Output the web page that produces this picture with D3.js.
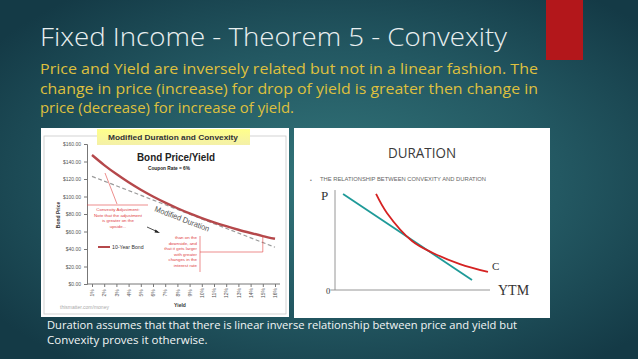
<!DOCTYPE html>
<html>
<head>
<meta charset="utf-8">
<script src="https://cdn.jsdelivr.net/npm/d3@7"></script>
<style>
body { margin: 0; overflow: hidden; }
svg { display: block; }
</style>
</head>
<body>
<script>
// slide text
var title = "Fixed Income - Theorem 5 - Convexity";
var introLines = [
  "Price and Yield are inversely related but not in a linear fashion. The",
  "change in price (increase) for drop of yield is greater then change in",
  "price (decrease) for increase of yield."
];
var footLines = [
  "Duration assumes that that there is linear inverse relationship between price and yield but",
  "Convexity proves it otherwise."
];

// left chart: 10-year bond, 6% coupon
var yields = [1, 2, 3, 4, 5, 6, 7, 8, 9, 10, 11, 12, 13, 14, 15, 16];
var bondPrice = [147.4, 135.9, 125.6, 116.2, 107.7, 100.0, 93.0, 86.6, 80.7, 75.4, 70.5, 66.1, 62.0, 58.3, 54.8, 51.7];
var durationYield = [1, 16];
var durationPrice = [123, 42];
var priceTicks = [0, 20, 40, 60, 80, 100, 120, 140, 160];

// right chart: schematic P vs YTM
var convexX = [2.65, 3.35, 4.97, 6.32, 8.06, 9.87];
var convexY = [9.8, 7.86, 5.0, 3.78, 2.65, 1.84];
var lineX = [0.52, 8.84];
var lineY = [9.8, 1.02];

var width = 638, height = 359;
var svg = d3.select("body").append("svg")
  .attr("width", width)
  .attr("height", height);

var defs = svg.append("defs");
var bg = defs.append("radialGradient").attr("id", "bg")
  .attr("cx", "0.52").attr("cy", "0.5").attr("r", "0.65");
bg.append("stop").attr("offset", "0").attr("stop-color", "#33757a");
bg.append("stop").attr("offset", "0.55").attr("stop-color", "#235862");
bg.append("stop").attr("offset", "1").attr("stop-color", "#143a46");

var yel = defs.append("linearGradient").attr("id", "yel")
  .attr("x1", 0).attr("y1", 0).attr("x2", 0).attr("y2", 1);
yel.append("stop").attr("offset", "0").attr("stop-color", "#ffff8a");
yel.append("stop").attr("offset", "1").attr("stop-color", "#f4f0a8");

svg.append("rect").attr("width", width).attr("height", height).attr("fill", "url(#bg)");

// red tab
svg.append("rect").attr("x", 546).attr("y", 0).attr("width", 37).attr("height", 60).attr("fill", "#b3171b");

svg.append("text")
  .attr("x", 40).attr("y", 46)
  .attr("font-family", "Open Sans, sans-serif")
  .attr("font-weight", 300)
  .attr("font-size", 26)
  .attr("fill", "#e9eff0")
  .attr("textLength", 467)
  .attr("lengthAdjust", "spacingAndGlyphs")
  .text(title);

svg.append("g").selectAll("text")
  .data(introLines)
  .enter()
  .append("text")
  .attr("x", 40)
  .attr("y", function(d, i){ return 74 + i * 19.7; })
  .attr("font-family", "Open Sans, sans-serif")
  .attr("font-size", 14.5)
  .attr("fill", "#dfc03e")
  .attr("textLength", function(d, i){ return i < 2 ? 498 : 254; })
  .attr("lengthAdjust", "spacingAndGlyphs")
  .text(function(d){ return d; });

svg.append("g").selectAll("text")
  .data(footLines)
  .enter()
  .append("text")
  .attr("x", 47)
  .attr("y", function(d, i){ return 329 + i * 14.5; })
  .attr("font-family", "Open Sans, sans-serif")
  .attr("font-size", 11.5)
  .attr("fill", "#f2f5f5")
  .attr("textLength", function(d, i){ return i == 0 ? 470 : null; })
  .attr("lengthAdjust", "spacingAndGlyphs")
  .text(function(d){ return d; });

// ---------- left panel ----------
var left = svg.append("g");
left.append("rect").attr("x", 41).attr("y", 128).attr("width", 248).attr("height", 189).attr("fill", "#ffffff");
left.append("rect").attr("x", 44).attr("y", 136).attr("width", 242).attr("height", 178)
  .attr("fill", "none").attr("stroke", "#c8c8c8").attr("stroke-width", 0.8);

var xScale = d3.scaleLinear().domain([1, 16]).range([92, 275]);
var yScale = d3.scaleLinear().domain([0, 160]).range([284, 144]);

var yAxis = left.append("g")
  .attr("transform", "translate(87,0)")
  .call(d3.axisLeft(yScale).tickValues(priceTicks).tickSize(3)
    .tickFormat(function(d){ return "$" + d.toFixed(2); }));
yAxis.select(".domain").attr("stroke", "#777");
yAxis.selectAll("line").attr("stroke", "#777");
yAxis.selectAll("text").attr("font-family", "Liberation Sans, sans-serif")
  .attr("font-size", 5).attr("fill", "#555");

var xAxis = left.append("g")
  .attr("transform", "translate(0,284)")
  .call(d3.axisBottom(xScale).tickValues(yields).tickSize(3)
    .tickFormat(function(d){ return d + "%"; }));
xAxis.select(".domain").attr("stroke", "#777").attr("d", "M87,0H280");
xAxis.selectAll("line").attr("stroke", "#777");
xAxis.selectAll("text")
  .attr("font-family", "Liberation Sans, sans-serif")
  .attr("font-size", 5).attr("fill", "#555")
  .attr("transform", "rotate(-90)")
  .attr("text-anchor", "middle")
  .attr("x", -9).attr("y", 0).attr("dy", "0.35em");

left.append("text")
  .attr("transform", "translate(60,215) rotate(-90)")
  .attr("text-anchor", "middle")
  .attr("font-family", "Liberation Sans, sans-serif")
  .attr("font-size", 5).attr("font-weight", "bold").attr("fill", "#333")
  .text("Bond Price");

left.append("text")
  .attr("x", 180).attr("y", 307).attr("text-anchor", "middle")
  .attr("font-family", "Liberation Sans, sans-serif")
  .attr("font-size", 5).attr("font-weight", "bold").attr("fill", "#333")
  .text("Yield");

left.append("text")
  .attr("x", 60).attr("y", 309)
  .attr("font-family", "Liberation Sans, sans-serif")
  .attr("font-size", 5).attr("fill", "#aaa")
  .text("thismatter.com/money");

// duration line
var durLine = d3.line()
  .x(function(d){ return xScale(d[0]); })
  .y(function(d){ return yScale(d[1]); });
left.append("path")
  .datum(d3.zip(durationYield, durationPrice))
  .attr("d", durLine)
  .attr("fill", "none").attr("stroke", "#9a9a9a")
  .attr("stroke-width", 1.2).attr("stroke-dasharray", "4,2.5");

// bond curve
var bondLine = d3.line()
  .curve(d3.curveMonotoneX)
  .x(function(d){ return xScale(d[0]); })
  .y(function(d){ return yScale(d[1]); });
left.append("path")
  .datum(d3.zip(yields, bondPrice))
  .attr("d", bondLine)
  .attr("fill", "none").attr("stroke", "#b5484b")
  .attr("stroke-width", 2.4);

// heading box
left.append("rect").attr("x", 97).attr("y", 129).attr("width", 153).attr("height", 16).attr("fill", "url(#yel)");
left.append("text")
  .attr("x", 173).attr("y", 140).attr("text-anchor", "middle")
  .attr("font-family", "Liberation Sans, sans-serif")
  .attr("font-size", 7).attr("font-weight", "bold").attr("fill", "#333")
  .attr("textLength", 130).attr("lengthAdjust", "spacingAndGlyphs")
  .text("Modified Duration and Convexity");

left.append("text")
  .attr("x", 176).attr("y", 161).attr("text-anchor", "middle")
  .attr("font-family", "Liberation Sans, sans-serif")
  .attr("font-size", 10).attr("font-weight", "bold").attr("fill", "#222")
  .attr("textLength", 78).attr("lengthAdjust", "spacingAndGlyphs")
  .text("Bond Price/Yield");
left.append("text")
  .attr("x", 169).attr("y", 170).attr("text-anchor", "middle")
  .attr("font-family", "Liberation Sans, sans-serif")
  .attr("font-size", 5.5).attr("font-weight", "bold").attr("fill", "#222")
  .attr("textLength", 42).attr("lengthAdjust", "spacingAndGlyphs")
  .text("Coupon Rate = 6%");

// "Modified Duration" label along the dashed line
left.append("text")
  .attr("transform", "translate(154,211) rotate(21)")
  .attr("font-family", "Liberation Sans, sans-serif")
  .attr("font-size", 8).attr("fill", "#555")
  .attr("textLength", 58).attr("lengthAdjust", "spacingAndGlyphs")
  .text("Modified Duration");

// small arrow
left.append("line").attr("x1", 147).attr("y1", 227).attr("x2", 158).attr("y2", 232)
  .attr("stroke", "#222").attr("stroke-width", 0.8);
left.append("path").attr("d", "M160,233 L155.5,229.5 L154.5,232.5 Z").attr("fill", "#222");

// legend
left.append("line").attr("x1", 98).attr("y1", 247).attr("x2", 110).attr("y2", 247)
  .attr("stroke", "#b5484b").attr("stroke-width", 2);
left.append("text").attr("x", 112).attr("y", 249)
  .attr("font-family", "Liberation Sans, sans-serif")
  .attr("font-size", 5.2).attr("fill", "#333")
  .text("10-Year Bond");

// annotations
var red = "#e0413f";
left.append("line").attr("x1", 105).attr("y1", 173).attr("x2", 117).attr("y2", 204)
  .attr("stroke", red).attr("stroke-width", 0.6);
left.append("line").attr("x1", 87).attr("y1", 205).attr("x2", 148).attr("y2", 205)
  .attr("stroke", red).attr("stroke-width", 0.6);

var note1 = ["Convexity Adjustment:", "Note that the adjustment", "is greater on the", "upside..."];
left.append("g").selectAll("text")
  .data(note1).enter().append("text")
  .attr("x", 118).attr("y", function(d, i){ return 211 + i * 5.6; })
  .attr("text-anchor", "middle")
  .attr("font-family", "Liberation Sans, sans-serif")
  .attr("font-size", 4.4).attr("fill", red)
  .text(function(d){ return d; });

var note2 = ["than on the", "downside, and", "that it gets larger", "with greater", "changes in the", "interest rate"];
left.append("g").selectAll("text")
  .data(note2).enter().append("text")
  .attr("x", 197).attr("y", function(d, i){ return 239 + i * 5.6; })
  .attr("text-anchor", "end")
  .attr("font-family", "Liberation Sans, sans-serif")
  .attr("font-size", 4.4).attr("fill", red)
  .text(function(d){ return d; });

left.append("line").attr("x1", 200).attr("y1", 236).attr("x2", 200).attr("y2", 272)
  .attr("stroke", red).attr("stroke-width", 0.6);
left.append("line").attr("x1", 200).attr("y1", 252).attr("x2", xScale(15)).attr("y2", 252)
  .attr("stroke", red).attr("stroke-width", 0.6);
left.append("line").attr("x1", xScale(15)).attr("y1", yScale(bondPrice[14])).attr("x2", xScale(15)).attr("y2", 252)
  .attr("stroke", red).attr("stroke-width", 0.6);

// ---------- right panel ----------
var right = svg.append("g");
right.append("rect").attr("x", 294).attr("y", 128).attr("width", 256).attr("height", 190).attr("fill", "#ffffff");

right.append("text")
  .attr("x", 422).attr("y", 158).attr("text-anchor", "middle")
  .attr("font-family", "Open Sans, sans-serif")
  .attr("font-size", 14).attr("fill", "#3a3a3a")
  .attr("textLength", 68).attr("lengthAdjust", "spacingAndGlyphs")
  .text("DURATION");

right.append("text").attr("x", 310).attr("y", 181.5)
  .attr("font-family", "Liberation Sans, sans-serif")
  .attr("font-size", 5).attr("fill", "#777")
  .text("\u2022");
right.append("text").attr("x", 320).attr("y", 181)
  .attr("font-family", "Liberation Sans, sans-serif")
  .attr("font-size", 4.6).attr("fill", "#666")
  .attr("textLength", 166).attr("lengthAdjust", "spacingAndGlyphs")
  .text("THE RELATIONSHIP BETWEEN CONVEXITY AND DURATION");

var px = d3.scaleLinear().domain([0, 10]).range([335, 490]);
var py = d3.scaleLinear().domain([0, 10]).range([290, 192]);

right.append("line").attr("x1", px(0)).attr("y1", py(10.2)).attr("x2", px(0)).attr("y2", py(0))
  .attr("stroke", "#8a8a8a").attr("stroke-width", 0.9);
right.append("line").attr("x1", px(-0.3)).attr("y1", py(0)).attr("x2", px(10)).attr("y2", py(0))
  .attr("stroke", "#8a8a8a").attr("stroke-width", 0.9);

var schemLine = d3.line()
  .x(function(d){ return px(d[0]); })
  .y(function(d){ return py(d[1]); });
right.append("path")
  .datum(d3.zip(lineX, lineY))
  .attr("d", schemLine)
  .attr("fill", "none").attr("stroke", "#1e9a98").attr("stroke-width", 1.8);
right.append("path")
  .datum(d3.zip(convexX, convexY))
  .attr("d", schemLine.curve(d3.curveCatmullRom))
  .attr("fill", "none").attr("stroke", "#d52222").attr("stroke-width", 1.8);

right.append("text").attr("x", 321).attr("y", 200)
  .attr("font-family", "Liberation Serif, serif")
  .attr("font-size", 13).attr("fill", "#333").text("P");
right.append("text").attr("x", 326).attr("y", 294)
  .attr("font-family", "Liberation Serif, serif")
  .attr("font-size", 8.5).attr("fill", "#333").text("0");
right.append("text").attr("x", 498).attr("y", 294.5)
  .attr("font-family", "Liberation Serif, serif")
  .attr("font-size", 14).attr("fill", "#333").text("YTM");
right.append("text").attr("x", 492).attr("y", 270)
  .attr("font-family", "Liberation Serif, serif")
  .attr("font-size", 11).attr("fill", "#333").text("C");
</script>
</body>
</html>
